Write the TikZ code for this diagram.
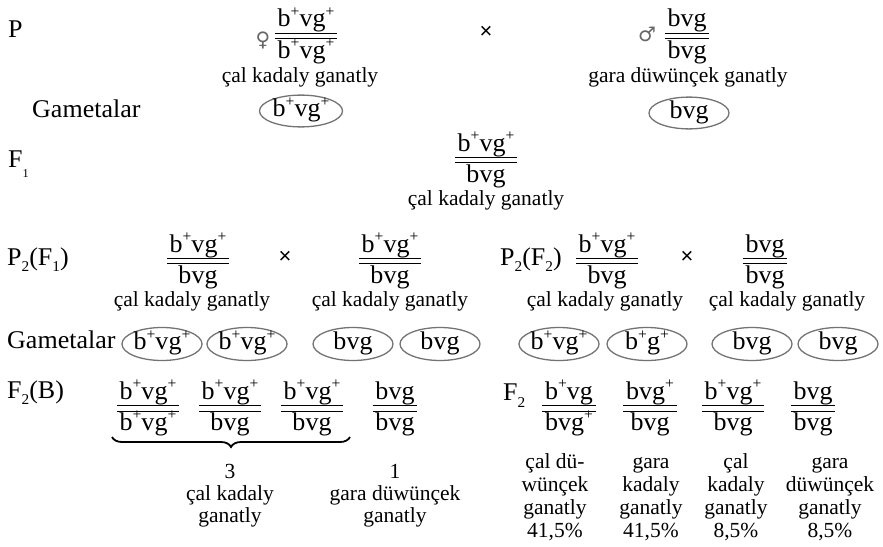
\documentclass[tikz,border=0pt]{standalone}
\usepackage{fontspec}
\setmainfont{Liberation Serif}
\newfontfamily\bigfont[FakeStretch=1.02]{Liberation Serif}
\newfontfamily\smfont{Liberation Serif}
\newfontfamily\xfont{Liberation Sans}
\newfontfamily\gfont{DejaVu Sans}
\usetikzlibrary{shapes.geometric,fit,decorations.pathreplacing}
\newcommand\pl{\raisebox{0.42em}{\scalebox{0.6}{+}}}
\newcommand\sbs[2]{\raisebox{-#1pt}{\fontsize{15}{15}\selectfont #2}}
\newcommand\gfr[5]{%
  \node[big, anchor=base] (#1n) at (#2,#3-9) {#4};
  \node[big, anchor=base] (#1d) at (#2,#3+22) {#5};
  \node[fit=(#1n)(#1d), inner sep=0pt] (#1) {};
  \draw[bar] (#1.west |- 0,#3-2.75) -- (#1.east |- 0,#3-2.75);
  \draw[bar] (#1.west |- 0,#3+2.75) -- (#1.east |- 0,#3+2.75);
}
\newcommand\colm[6]{%
  \node[lab] (#1a) at (#2,468) {#3};
  \node[lab] (#1b) at (#2,491) {#4};
  \node[lab] (#1c) at (#2,514) {#5};
  \node[lab] (#1d) at (#2,537) {#6};
}
\begin{document}
\begin{tikzpicture}[x=1pt,y=-1pt,
  big/.style={font=\bigfont\fontsize{25.5}{28}\selectfont, inner xsep=2.5pt, inner ysep=0pt},
  lab/.style={font=\smfont\fontsize{21.5}{23}\selectfont, anchor=base, inner sep=0pt},
  rowlab/.style={font=\bigfont\fontsize{25.5}{28}\selectfont, anchor=base west, inner sep=0pt},
  bar/.style={line width=1.4pt},
  gam/.style={ellipse, draw=black!55, line width=1.3pt, minimum width=80pt, minimum height=33pt,
    inner sep=0pt, font=\bigfont\fontsize{25.5}{28}\selectfont, text height=17pt, text depth=5.5pt},
  cross/.style={font=\xfont\fontsize{22}{22}\selectfont, inner sep=0pt},
  sex/.style={font=\gfont\fontsize{20}{20}\selectfont, text=black!60, inner sep=0pt}]
\useasboundingbox (0,0) rectangle (883,546);
% P
\node[rowlab] (lP) at (8,37) {P};
\node[sex] (fem) at (263,40) {♀};
\gfr{pf}{306}{36}{b\pl vg\pl}{b\pl vg\pl}
\node[lab] (pfl) at (300,82) {çal kadaly ganatly};
\node[cross] (x1) at (486,32) {×};
\node[sex] (mal) at (647,34) {♂};
\gfr{pm}{687}{36}{bvg}{bvg}
\node[lab] (pml) at (688,82) {gara düwünçek ganatly};
% gametes 1
\node[rowlab] (lG1) at (32,117) {Gametalar};
\node[gam, minimum width=83pt, minimum height=29pt] (g1) at (301,111) {b\pl vg\pl};
\node[gam, minimum height=31pt] (g2) at (689,113) {bvg};
% F1
\node[rowlab] (lF1) at (8,167) {F\raisebox{-10pt}{\fontsize{12}{12}\selectfont 1}};
\gfr{f1}{486}{160}{b\pl vg\pl}{bvg}
\node[lab] (f1l) at (486,205) {çal kadaly ganatly};
% P2
\node[rowlab] (lP2a) at (7,265) {P\sbs{6}{2}(F\sbs{6}{1})};
\gfr{pa}{198}{261}{b\pl vg\pl}{bvg}
\node[lab] (pal) at (192,306) {çal kadaly ganatly};
\node[cross] (x2) at (285,257) {×};
\gfr{pb}{390}{261}{b\pl vg\pl}{bvg}
\node[lab] (pbl) at (390,306) {çal kadaly ganatly};
\node[rowlab] (lP2b) at (500,265) {P\sbs{6}{2}(F\sbs{6}{2})};
\gfr{pc}{607}{261}{b\pl vg\pl}{bvg}
\node[lab] (pcl) at (605,306) {çal kadaly ganatly};
\node[cross] (x3) at (687,257) {×};
\gfr{pd}{765}{261}{bvg}{bvg}
\node[lab] (pdl) at (787,306) {çal kadaly ganatly};
% gametes 2
\node[rowlab] (lG2) at (7,348) {Gametalar};
\node[gam] (h1) at (162,344) {b\pl vg\pl};
\node[gam] (h2) at (247,344) {b\pl vg\pl};
\node[gam] (h3) at (353,344) {bvg};
\node[gam] (h4) at (440,344) {bvg};
\node[gam] (h5) at (559,344) {b\pl vg\pl};
\node[gam] (h6) at (647,344) {b\pl g\pl};
\node[gam] (h7) at (752,344) {bvg};
\node[gam] (h8) at (838,344) {bvg};
% F2(B)
\node[rowlab] (lF2B) at (7,398) {F\sbs{6}{2}(B)};
\gfr{qa}{148}{408.5}{b\pl vg\pl}{b\pl vg\pl}
\gfr{qb}{230}{408.5}{b\pl vg\pl}{bvg}
\gfr{qc}{312}{408.5}{b\pl vg\pl}{bvg}
\gfr{qd}{395}{408.5}{bvg}{bvg}
\coordinate (bl) at (112,437);
\coordinate (br) at (350,437);
\draw[decorate, decoration={brace, mirror, amplitude=10pt}, line width=1.8pt] (bl) -- (br);
\node[lab] (n3) at (230,478) {3};
\node[lab] (n3a) at (230,500) {çal kadaly};
\node[lab] (n3b) at (230,522) {ganatly};
\node[lab] (n1) at (395,478) {1};
\node[lab] (n1a) at (395,500) {gara düwünçek};
\node[lab] (n1b) at (395,522) {ganatly};
% F2 right
\node[rowlab] (lF2) at (503,400) {F\sbs{7}{2}};
\gfr{ra}{569}{408.5}{b\pl vg}{bvg\pl}
\gfr{rb}{650}{408.5}{bvg\pl}{bvg}
\gfr{rc}{733}{408.5}{b\pl vg\pl}{bvg}
\gfr{rd}{813}{408.5}{bvg}{bvg}
\colm{ca}{555}{çal dü-}{wünçek}{ganatly}{41,5\%}
\colm{cb}{651}{gara}{kadaly}{ganatly}{41,5\%}
\colm{cc}{736}{çal}{kadaly}{ganatly}{8,5\%}
\colm{cd}{830}{gara}{düwünçek}{ganatly}{8,5\%}
\end{tikzpicture}
\end{document}
